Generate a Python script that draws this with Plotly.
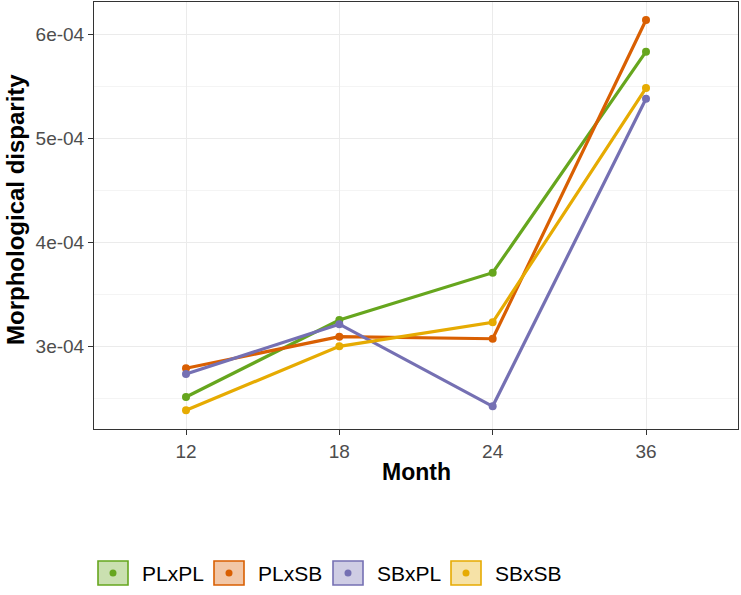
import plotly.graph_objects as go

# Months (discrete x axis) and disparity per cross type
months = ["12", "18", "24", "36"]
plxpl = [2.51e-4, 3.25e-4, 3.705e-4, 5.83e-4]
plxsb = [2.786e-4, 3.09e-4, 3.07e-4, 6.135e-4]
sbxpl = [2.731e-4, 3.21e-4, 2.42e-4, 5.378e-4]
sbxsb = [2.382e-4, 2.997e-4, 3.228e-4, 5.48e-4]

series_names = ["PLxPL", "PLxSB", "SBxPL", "SBxSB"]
series_values = [plxpl, plxsb, sbxpl, sbxsb]
colors = ["#66A61E", "#D95F02", "#7570B3", "#E6AB02"]
fills = ["rgba(102,166,30,0.35)", "rgba(217,95,2,0.35)",
         "rgba(117,112,179,0.35)", "rgba(230,171,2,0.35)"]

y_tickvals = [3e-4, 4e-4, 5e-4, 6e-4]
y_ticktext = ["3e-04", "4e-04", "5e-04", "6e-04"]

W, H = 741, 595
L, R, T, B = 94, 738, 2, 429  # plot area in pixels

FONT = "Liberation Sans, Arial, sans-serif"


def px(x):
    return (x - L) / (R - L)


def py(y):
    return (B - y) / (B - T)


fig = go.Figure()
for name, vals, col in zip(series_names, series_values, colors):
    fig.add_trace(go.Scatter(
        x=months, y=vals, mode="lines+markers", name=name,
        line=dict(color=col, width=3.2),
        marker=dict(color=col, size=8),
        showlegend=False,
    ))

shapes = []
annotations = []

# Legend keys drawn at the bottom
key_x = [98, 214, 333, 451]
for kx, name, col, fill in zip(key_x, series_names, colors, fills):
    shapes.append(dict(type="rect", xref="paper", yref="paper",
                       x0=px(kx), x1=px(kx + 30), y0=py(585), y1=py(561),
                       fillcolor=fill, line=dict(color=col, width=1.6)))
    shapes.append(dict(type="circle", xref="paper", yref="paper",
                       x0=px(kx + 15 - 3.5), x1=px(kx + 15 + 3.5),
                       y0=py(573 + 3.5), y1=py(573 - 3.5),
                       fillcolor=col, line=dict(width=0)))
    annotations.append(dict(xref="paper", yref="paper", x=px(kx + 42), y=py(573),
                            text=name, showarrow=False, xanchor="left", yanchor="middle",
                            font=dict(family=FONT, size=21, color="#000000")))

# Axis titles
annotations.append(dict(xref="paper", yref="paper", x=px(416), y=py(472),
                        text="<b>Month</b>", showarrow=False,
                        xanchor="center", yanchor="middle",
                        font=dict(family=FONT, size=23, color="#000000")))
annotations.append(dict(xref="paper", yref="paper", x=px(15), y=py(210),
                        text="<b>Morphological disparity</b>", showarrow=False,
                        textangle=-90, xanchor="center", yanchor="middle",
                        font=dict(family=FONT, size=24, color="#000000")))

fig.update_layout(
    width=W, height=H,
    margin=dict(l=L, r=W - R, t=T, b=H - B),
    paper_bgcolor="white", plot_bgcolor="white",
    shapes=shapes, annotations=annotations,
    showlegend=False,
    xaxis=dict(
        type="category", range=[-0.6, 3.6],
        showgrid=True, gridcolor="#EBEBEB", gridwidth=1.2,
        showline=True, linecolor="#333333", linewidth=1, mirror=True,
        ticks="outside", ticklen=5, tickcolor="#333333",
        tickfont=dict(family=FONT, size=19, color="#4D4D4D"),
        zeroline=False,
    ),
    yaxis=dict(
        range=[2.202e-4, 6.308e-4],
        tickvals=y_tickvals, ticktext=y_ticktext,
        showgrid=True, gridcolor="#EBEBEB", gridwidth=1.2,
        minor=dict(tickvals=[2.5e-4, 3.5e-4, 4.5e-4, 5.5e-4], showgrid=True,
                   gridcolor="#F4F4F4", gridwidth=0.8, ticks=""),
        showline=True, linecolor="#333333", linewidth=1, mirror=True,
        ticks="outside", ticklen=5, tickcolor="#333333",
        tickfont=dict(family=FONT, size=19, color="#4D4D4D"),
        zeroline=False,
    ),
)

fig.write_html("out.html")
